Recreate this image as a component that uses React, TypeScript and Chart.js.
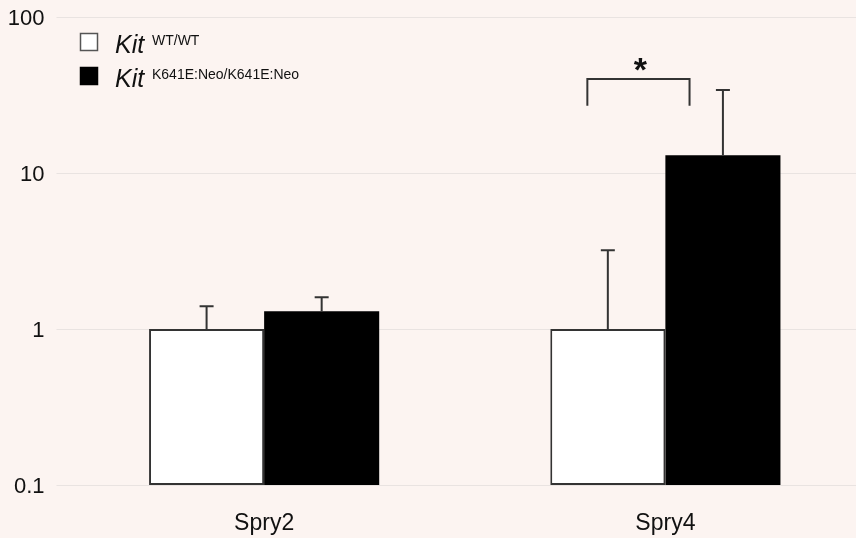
import React, { useEffect, useRef } from "react";
import { Chart, registerables } from "chart.js";

Chart.register(...registerables);

const categories = ["Spry2", "Spry4"];
const wtValues = [1, 1];
const kiValues = [1.3, 13];
const wtErrUpper = [1.4, 3.2];
const kiErrUpper = [1.6, 34];
const yTicks = [0.1, 1, 10, 100];
const bracketTop = 40;
const bracketBottom = 27;
const sigLabel = "*";

const FONT = "'Liberation Sans', Arial, sans-serif";
const BG = "#fcf4f1";

const errorBarPlugin = {
  id: "errorBars",
  afterDatasetsDraw(chart: any) {
    const ctx = chart.ctx;
    const y = chart.scales.y;
    const uppers = [wtErrUpper, kiErrUpper];
    ctx.save();
    ctx.strokeStyle = "#333";
    ctx.lineWidth = 2;
    chart.data.datasets.forEach((ds: any, di: number) => {
      const meta = chart.getDatasetMeta(di);
      meta.data.forEach((bar: any, i: number) => {
        const x = bar.x;
        const yTop = y.getPixelForValue(uppers[di][i]);
        const yBase = bar.y;
        ctx.beginPath();
        ctx.moveTo(x, yBase);
        ctx.lineTo(x, yTop);
        ctx.moveTo(x - 7, yTop);
        ctx.lineTo(x + 7, yTop);
        ctx.stroke();
      });
    });
    // significance bracket on Spry4
    const m0 = chart.getDatasetMeta(0).data[1];
    const m1 = chart.getDatasetMeta(1).data[1];
    const bw = m1.x - m0.x;
    const center = (m0.x + m1.x) / 2;
    const left = center - 0.678 * bw;
    const right = center + 0.21 * bw;
    const top = y.getPixelForValue(bracketTop);
    const bottom = y.getPixelForValue(bracketBottom);
    ctx.beginPath();
    ctx.moveTo(left, bottom);
    ctx.lineTo(left, top);
    ctx.lineTo(right, top);
    ctx.lineTo(right, bottom);
    ctx.stroke();
    ctx.fillStyle = "#111";
    ctx.font = `bold 34px ${FONT}`;
    ctx.textAlign = "center";
    ctx.textBaseline = "alphabetic";
    ctx.fillText(sigLabel, (left + right) / 2 + 2, top + 2);
    ctx.restore();
  },
};

const legendPlugin = {
  id: "customLegend",
  afterDraw(chart: any) {
    const ctx = chart.ctx;
    const items = [
      { fill: "#ffffff", stroke: "#555", sup: "WT/WT", y: 33 },
      { fill: "#000000", stroke: "#000", sup: "K641E:Neo/K641E:Neo", y: 67 },
    ];
    ctx.save();
    items.forEach((it) => {
      ctx.fillStyle = it.fill;
      ctx.fillRect(80, it.y, 18, 18);
      ctx.strokeStyle = it.stroke;
      ctx.lineWidth = 1.5;
      ctx.strokeRect(80.5, it.y + 0.5, 17, 17);
      ctx.fillStyle = "#111";
      ctx.textAlign = "left";
      ctx.textBaseline = "alphabetic";
      ctx.font = `italic 25px ${FONT}`;
      ctx.fillText("Kit", 115, it.y + 20);
      ctx.font = `14px ${FONT}`;
      ctx.fillText(it.sup, 152, it.y + 12);
    });
    ctx.restore();
  },
};

export default function App() {
  const ref = useRef<HTMLCanvasElement | null>(null);
  useEffect(() => {
    if (!ref.current) return;
    const chart = new Chart(ref.current, {
      type: "bar",
      data: {
        labels: categories,
        datasets: [
          {
            label: "Kit WT/WT",
            data: wtValues,
            backgroundColor: "#ffffff",
            borderColor: "#333333",
            borderWidth: 2,
            borderSkipped: false,
          },
          {
            label: "Kit K641E:Neo/K641E:Neo",
            data: kiValues,
            backgroundColor: "#000000",
            borderColor: "#000000",
            borderWidth: 0,
            borderSkipped: false,
          },
        ],
      },
      options: {
        animation: false,
        responsive: true,
        maintainAspectRatio: false,
        layout: { padding: { top: 17, left: 0, right: 0, bottom: 0 } },
        datasets: {
          bar: { categoryPercentage: 0.5736, barPercentage: 1 },
        },
        plugins: {
          legend: { display: false },
          tooltip: { enabled: false },
        },
        scales: {
          x: {
            grid: { display: false },
            border: { display: false },
            ticks: {
              font: { family: FONT, size: 23 },
              color: "#111",
              padding: 17,
            },
            afterFit(scale: any) {
              scale.height = 53;
              scale.paddingLeft = 0;
              scale.paddingRight = 0;
            },
          },
          y: {
            type: "logarithmic",
            min: 0.1,
            max: 100,
            border: { display: false },
            grid: {
              color: "#e9e3e1",
              lineWidth: 1,
              tickLength: 7,
              drawTicks: true,
            },
            afterBuildTicks(scale: any) {
              scale.ticks = yTicks.map((v) => ({ value: v }));
            },
            ticks: {
              font: { family: FONT, size: 22 },
              color: "#111",
              padding: 12,
              labelOffset: 2,
              callback: (v: any) => String(v),
            },
            afterFit(scale: any) {
              scale.width = 63.5;
              scale.paddingTop = 0;
              scale.paddingBottom = 0;
            },
          },
        },
      },
      plugins: [errorBarPlugin, legendPlugin],
    } as any);
    return () => chart.destroy();
  }, []);

  return (
    <div
      style={{
        position: "absolute",
        left: 0,
        top: 0,
        width: 856,
        height: 538,
        overflow: "hidden",
        background: BG,
      }}
    >
      <div style={{ position: "relative", width: 866, height: 538 }}>
        <canvas ref={ref} />
      </div>
    </div>
  );
}
